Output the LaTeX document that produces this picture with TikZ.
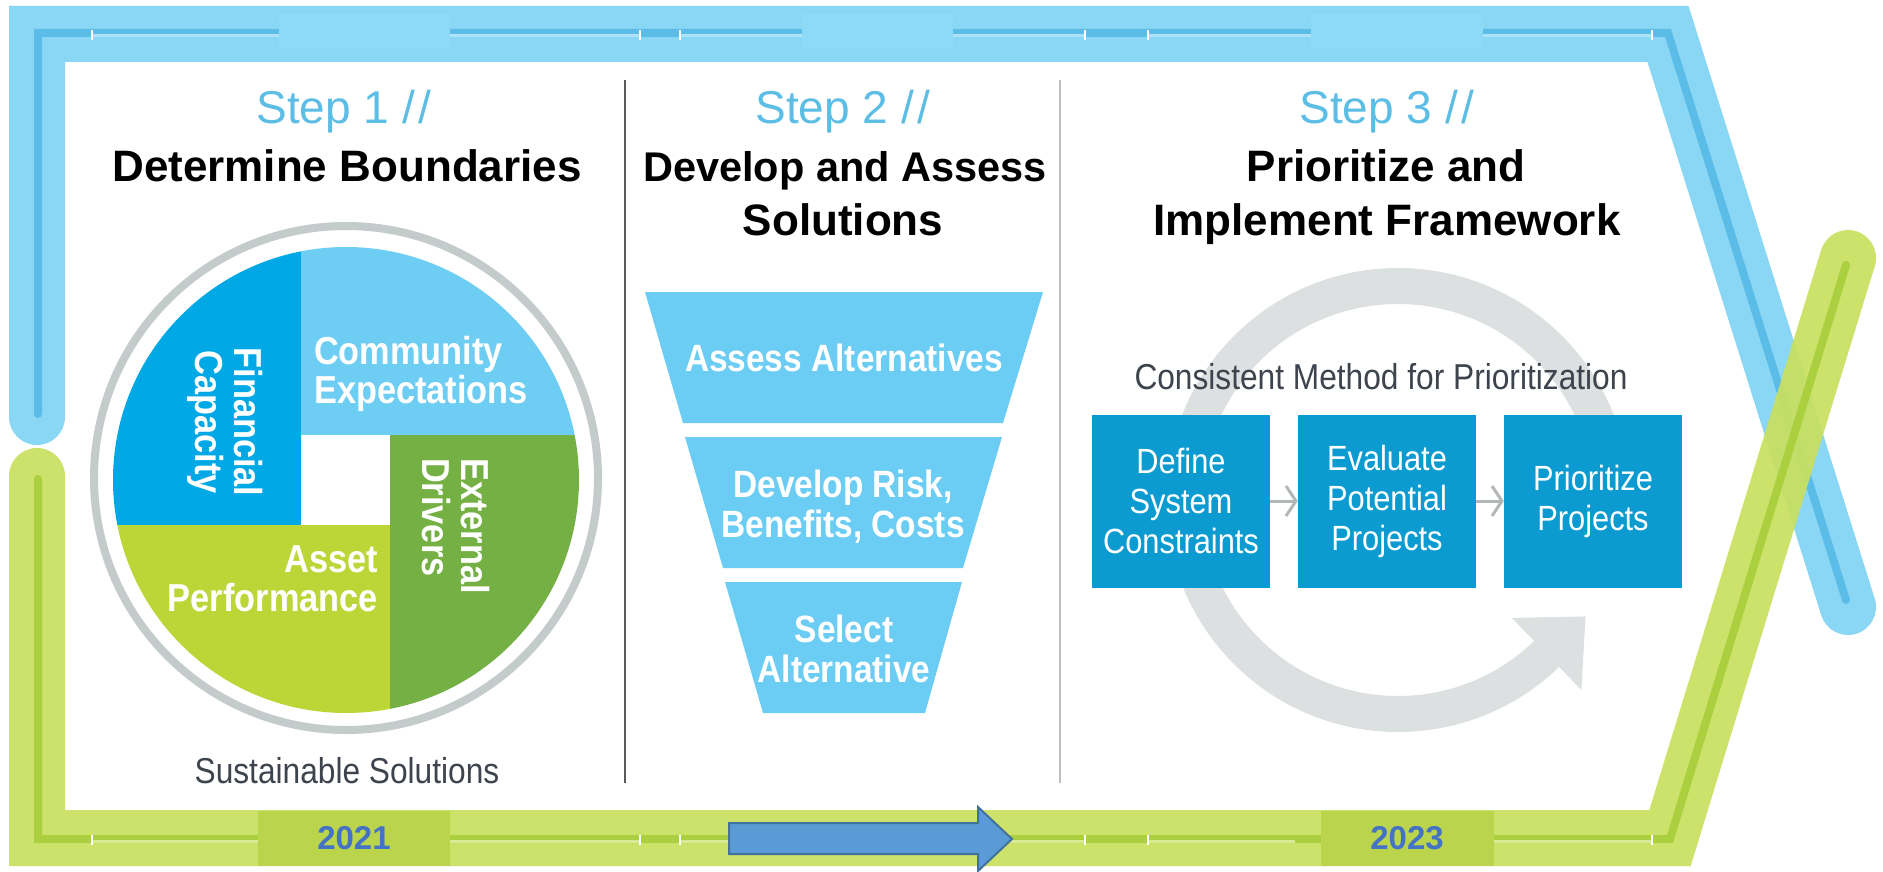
\documentclass[tikz,border=0pt]{standalone}
\usepackage{fontspec}
\setmainfont{Liberation Sans}
\newfontfamily\condfont[FakeStretch=0.88]{Liberation Sans}
\usetikzlibrary{calc,arrows.meta}

\definecolor{bandblue}{RGB}{138,215,245}
\definecolor{tabblue}{RGB}{141,218,247}
\definecolor{lineblue}{RGB}{92,188,232}
\definecolor{stripblue}{RGB}{172,227,248}
\definecolor{bandgreen}{RGB}{200,224,94}
\definecolor{linegreen}{RGB}{168,206,60}
\definecolor{stripgreen}{RGB}{216,234,150}
\definecolor{tabgreen}{RGB}{186,213,76}
\definecolor{steptext}{RGB}{92,189,229}
\definecolor{fincap}{RGB}{0,168,230}
\definecolor{commexp}{RGB}{110,205,243}
\definecolor{extdrv}{RGB}{116,176,67}
\definecolor{assetperf}{RGB}{188,214,56}
\definecolor{ringgray}{RGB}{196,203,203}
\definecolor{funnelblue}{RGB}{108,205,244}
\definecolor{boxblue}{RGB}{11,155,208}
\definecolor{loopgray}{RGB}{221,224,224}
\definecolor{chevgray}{RGB}{178,183,183}
\definecolor{captiongray}{RGB}{62,68,78}
\definecolor{yearblue}{RGB}{68,114,196}
\definecolor{arrowfill}{RGB}{91,155,213}
\definecolor{arrowedge}{RGB}{65,113,156}

\begin{document}
\begin{tikzpicture}[x=1pt,y=-1pt]

  \tikzstyle{band}=[line width=56pt,line cap=round,line join=miter]
  \tikzstyle{bandline}=[line width=8pt,line cap=round,line join=miter]
  \tikzstyle{strip}=[line width=3pt]
  \tikzstyle{tick}=[draw=white,line width=1.5pt]
  \tikzstyle{yeartab}=[fill=tabgreen,minimum height=55pt,inner sep=0pt,text=yearblue,font=\bfseries\fontsize{33}{33}\selectfont]
  \tikzstyle{divider}=[line width=2pt]
  \tikzstyle{stepnum}=[anchor=base,inner sep=0pt,text=steptext,font=\fontsize{46}{46}\selectfont]
  \tikzstyle{steptitle}=[anchor=base,inner sep=0pt,font=\bfseries\fontsize{44}{44}\selectfont]
  \tikzstyle{quadlabel}=[inner sep=0pt,text=white,font=\condfont\bfseries\fontsize{39}{39}\selectfont]
  \tikzstyle{funnel}=[fill=funnelblue]
  \tikzstyle{funnellabel}=[inner sep=0pt,align=center,text=white,font=\condfont\bfseries\fontsize{38}{40}\selectfont]
  \tikzstyle{stepbox}=[fill=boxblue,minimum width=178pt,minimum height=173pt,inner sep=0pt,align=center,text=white,node distance=206pt,font=\condfont\fontsize{35}{40}\selectfont]
  \tikzstyle{chevron}=[draw=chevgray,line width=3pt,-{Straight Barb[length=10pt,width=30pt]}]
  \tikzstyle{caption}=[inner sep=0pt,text=captiongray,font=\condfont\fontsize{36}{36}\selectfont]
  \tikzstyle{loop}=[draw=loopgray,line width=36pt]

  \fill[white] (0,0) rectangle (1883,872);
  \useasboundingbox (0,0) rectangle (1883,872);

  % bands
  \draw[band,bandblue] (37,417) -- (37,34) -- (1668,34) -- (1848,607);
  \draw[bandline,lineblue] (38,414) -- (38,33) -- (1668,33) -- (1846,600);
  \foreach \a/\b in {92/279,450/640,680/802,953/1085,1148/1311,1483/1652}
    \draw[strip,stripblue] (\a,36) -- (\b,36);
  \foreach \t in {92,640,680,1085,1148,1652}
    \draw[tick] (\t,30) -- (\t,40);
  \foreach \a/\b in {279/450,802/953,1311/1483}
    \fill[tabblue] (\a,14) rectangle (\b,48);

  \draw[band,bandgreen,opacity=0.92] (37,476) -- (37,838) -- (1670,838) -- (1848,258);
  \draw[bandline,linegreen,opacity=0.92] (38,479) -- (38,839) -- (1670,839) -- (1846,265);
  \foreach \a/\b in {92/258,450/640,680/729,1008/1085,1148/1295,1494/1652}
    \draw[strip,stripgreen] (\a,841) -- (\b,841);
  \foreach \t in {92,640,680,1085,1148,1652}
    \draw[tick] (\t,835) -- (\t,845);

  \node[yeartab,minimum width=192pt] (y2021) at (354,838) {2021};
  \node[yeartab,minimum width=173pt] (y2023) at (1407,838) {2023};
  \draw[draw=arrowedge,fill=arrowfill,line width=2pt] (729,823) -- (978,823) -- (978,807) -- (1012,839) -- (978,871) -- (978,854) -- (729,854) -- cycle;

  % dividers
  \draw[divider,draw=black!65] (625,80) -- (625,783);
  \draw[divider,draw=black!25] (1060,80) -- (1060,783);

  % headings
  \node[stepnum] (step1) at (344,124) {Step 1 {/\kern4pt/}};
  \node[steptitle] (title1) at (347,182) {Determine Boundaries};
  \node[stepnum] (step2) at (843,124) {Step 2 {/\kern4pt/}};
  \node[steptitle,font=\bfseries\fontsize{41.5}{41.5}\selectfont] (title2a) at (845,182) {Develop and Assess};
  \node[steptitle] (title2b) at (843,235) {Solutions};
  \node[stepnum] (step3) at (1387,124) {Step 3 {/\kern4pt/}};
  \node[steptitle] (title3a) at (1386,182) {Prioritize and};
  \node[steptitle] (title3b) at (1387,235) {Implement Framework};

  % step 1: boundaries
  \begin{scope}
    \clip (346,480) circle (233);
    \fill[fincap] (100,240) rectangle (301,525);
    \fill[commexp] (301,240) rectangle (590,435);
    \fill[extdrv] (390,435) rectangle (590,720);
    \fill[assetperf] (100,525) rectangle (390,720);
  \end{scope}
  \node[draw=ringgray,line width=8pt,circle,minimum size=504pt] (ring) at (346,478) {};
  \node[quadlabel,rotate=-90,align=center] (fin) at (225,422) {Financial\\Capacity};
  \node[quadlabel,anchor=west,align=left] (comm) at (314,374) {Community\\Expectations};
  \node[quadlabel,rotate=-90,anchor=west,align=left] (ext) at (456,458) {External\\Drivers};
  \node[quadlabel,anchor=east,align=right] (asset) at (378,579) {Asset\\Performance};
  \node[caption] (sust) at (347,771) {Sustainable Solutions};

  % step 2: funnel
  \fill[funnel] (645,292) -- (1043,292) -- (1003,423) -- (683,423) -- cycle;
  \fill[funnel] (685,437) -- (1002,437) -- (963,568) -- (723,568) -- cycle;
  \fill[funnel] (725,582) -- (962,582) -- (925,713) -- (763,713) -- cycle;
  \node[funnellabel] (assess) at (844,358) {Assess Alternatives};
  \node[funnellabel] (risk) at (843,507) {Develop Risk,\\Benefits, Costs};
  \node[funnellabel] (select) at (844,649) {Select\\Alternative};

  % step 3: prioritization loop
  \coordinate (loopc) at (1398,500);
  \draw[loop] (loopc) ++(46:214) arc[start angle=46,end angle=362,radius=214];
  \fill[loopgray] ($(loopc)+(46:164)$) -- ($(loopc)+(46:264)$) -- ($(loopc)+(46:214)+(-44:54)$) -- cycle;
  \node[caption] (method) at (1381,377) {Consistent Method for Prioritization};

  \node[stepbox] (define) at (1181,501) {Define\\System\\Constraints};
  \node[stepbox,right of=define] (evaluate) {Evaluate\\Potential\\Projects};
  \node[stepbox,right of=evaluate] (prioritize) {Prioritize\\Projects};
  \draw[chevron] (define) -- (evaluate);
  \draw[chevron] (evaluate) -- (prioritize);

\end{tikzpicture}
\end{document}
